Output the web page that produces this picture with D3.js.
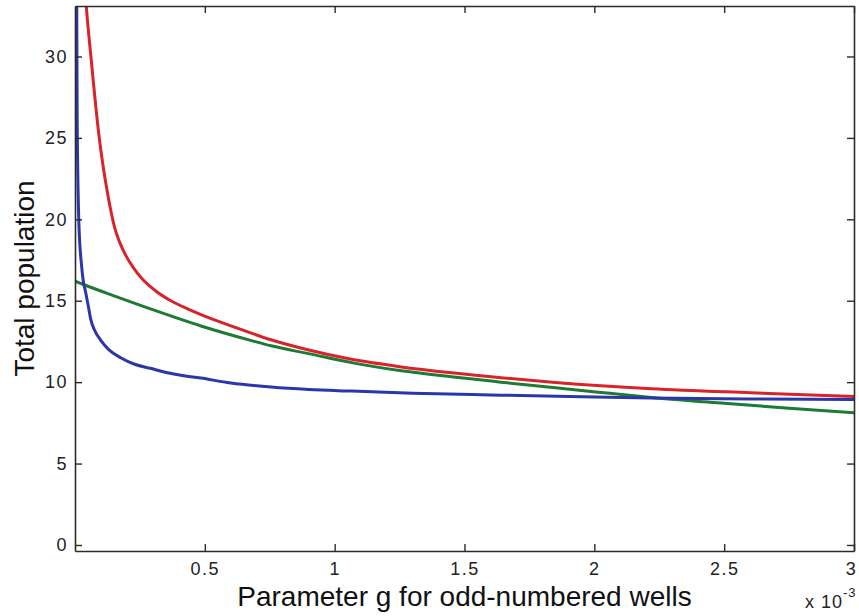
<!DOCTYPE html>
<html>
<head>
<meta charset="utf-8">
<script src="https://cdn.jsdelivr.net/npm/d3@7"></script>
<style>
  body { margin: 0; background: #fff; }
  svg { display: block; font-family: "Liberation Sans", Arial, sans-serif; }
</style>
</head>
<body>
<div id="chart"></div>
<script>
// canvas size
var WIDTH = 859, HEIGHT = 616;

// plot box in pixels
var LEFT = 75, RIGHT = 854, TOP = 6, BOTTOM = 551;

// data, g in units of 1e-3
var gBlue   = [0.004, 0.007, 0.0085, 0.0147, 0.025, 0.032, 0.04, 0.052, 0.06, 0.075, 0.098, 0.13, 0.176, 0.23, 0.29, 0.38, 0.485, 0.6, 0.755, 0.9, 1.065, 1.3, 1.64, 2.0, 2.22, 2.6, 3.0];
var popBlue = [48, 32, 26, 19.9, 17.2, 16.2, 15.6, 14.6, 13.9, 13.2, 12.6, 12.0, 11.5, 11.1, 10.85, 10.5, 10.25, 9.95, 9.7, 9.55, 9.45, 9.32, 9.2, 9.08, 9.02, 8.97, 8.93];

var gRed   = [0.038, 0.0444, 0.0625, 0.0919, 0.106, 0.1216, 0.1371, 0.1525, 0.1718, 0.195, 0.226, 0.261, 0.311, 0.369, 0.438, 0.485, 0.62, 0.755, 0.9, 1.065, 1.25, 1.45, 1.64, 1.85, 2.22, 2.6, 3.0];
var popRed = [34.3, 32.9, 29.8, 25.2, 23.5, 21.95, 20.6, 19.5, 18.6, 17.8, 17.0, 16.3, 15.6, 15.0, 14.47, 14.15, 13.35, 12.6, 11.97, 11.4, 10.95, 10.57, 10.27, 9.98, 9.6, 9.35, 9.12];

var gGreen   = [0, 0.04, 0.15, 0.29, 0.485, 0.68, 0.755, 0.9, 1.065, 1.25, 1.45, 1.64, 1.85, 2.05, 2.22, 2.5, 2.75, 3.0];
var popGreen = [16.2, 15.95, 15.3, 14.5, 13.45, 12.55, 12.23, 11.75, 11.2, 10.72, 10.33, 10.0, 9.65, 9.33, 9.06, 8.7, 8.4, 8.12];

var xTicks = [0.5, 1, 1.5, 2, 2.5, 3];
var yTicks = [0, 5, 10, 15, 20, 25, 30];

var series = [
    {g: gGreen, pop: popGreen, color: "#1f7a35"},
    {g: gRed, pop: popRed, color: "#d8232a"},
    {g: gBlue, pop: popBlue, color: "#2b36a8"}
];

var SVG = d3.select("#chart").append("svg")
    .attr("width", WIDTH)
    .attr("height", HEIGHT);

var x = d3.scaleLinear().domain([0, 3]).range([LEFT, RIGHT]);
var y = d3.scaleLinear().domain([-0.37, 33.1]).range([BOTTOM, TOP]);

SVG.append("clipPath").attr("id", "plot")
    .append("rect").attr("x", LEFT).attr("y", TOP)
    .attr("width", RIGHT - LEFT).attr("height", BOTTOM - TOP);

// curves
var line = d3.line().curve(d3.curveMonotoneX)
    .x(function (d) { return x(d[0]); })
    .y(function (d) { return y(d[1]); });

var LAYER_LINES = SVG.append("g").attr("clip-path", "url(#plot)");
series.forEach(function (s) {
    LAYER_LINES.append("path")
        .datum(d3.zip(s.g, s.pop))
        .attr("d", line)
        .attr("fill", "none")
        .attr("stroke", s.color)
        .attr("stroke-width", 3);
});

// axes, ticks pointing inward on all four sides
var AXIS_COLOR = "#2b2b2b";
function styleAxis(g) {
    g.selectAll("path.domain").attr("stroke", AXIS_COLOR).attr("stroke-width", 1.6);
    g.selectAll(".tick line").attr("stroke", AXIS_COLOR).attr("stroke-width", 1.4);
    g.selectAll(".tick text").attr("fill", "#222")
        .attr("font-size", 18).attr("letter-spacing", 1.5);
}

var xAxis = SVG.append("g").attr("transform", "translate(0," + BOTTOM + ")")
    .call(d3.axisBottom(x).tickValues(xTicks).tickSize(-7).tickSizeOuter(0).tickPadding(11)
        .tickFormat(d3.format("")))
    .call(styleAxis);
// last label sits against the right edge
xAxis.selectAll(".tick text").filter(function (d) { return d === 3; }).attr("dx", -3);

SVG.append("g").attr("transform", "translate(0," + TOP + ")")
    .call(d3.axisTop(x).tickValues(xTicks).tickSize(-7).tickSizeOuter(0).tickFormat(""))
    .call(styleAxis);

SVG.append("g").attr("transform", "translate(" + LEFT + ",0)")
    .call(d3.axisLeft(y).tickValues(yTicks).tickSize(-7).tickSizeOuter(0).tickPadding(7))
    .call(styleAxis);

SVG.append("g").attr("transform", "translate(" + RIGHT + ",0)")
    .call(d3.axisRight(y).tickValues(yTicks).tickSize(-7).tickSizeOuter(0).tickFormat(""))
    .call(styleAxis);

// axis labels
SVG.append("text")
    .attr("x", (LEFT + RIGHT) / 2).attr("y", 606)
    .attr("text-anchor", "middle")
    .attr("font-size", 28).attr("fill", "#111")
    .text("Parameter g for odd-numbered wells");

SVG.append("text")
    .attr("transform", "translate(34," + (TOP + BOTTOM) / 2 + ") rotate(-90)")
    .attr("text-anchor", "middle")
    .attr("font-size", 28).attr("fill", "#111")
    .text("Total population");

// exponent label
var expo = SVG.append("text")
    .attr("x", 805).attr("y", 608)
    .attr("font-size", 18).attr("fill", "#222").attr("letter-spacing", 1);
expo.append("tspan").text("x 10");
expo.append("tspan").attr("font-size", 13).attr("dy", -11).text("-3");
</script>
</body>
</html>
